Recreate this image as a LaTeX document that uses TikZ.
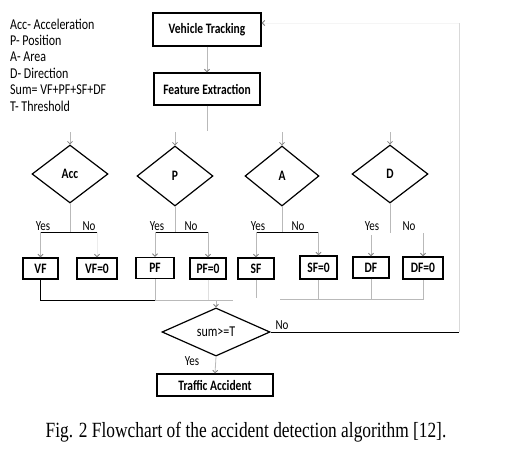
\documentclass[tikz,border=0pt]{standalone}
\usepackage{fontspec}
\setmainfont{Carlito}[FakeStretch=0.8]
\newfontfamily\capfont{Liberation Serif}[FakeStretch=0.8]
\usetikzlibrary{arrows.meta,shapes.geometric,calc}
\begin{document}
\begin{tikzpicture}[x=1pt,y=-1pt,
  box/.style={draw,line width=1.4pt,inner sep=0pt,font=\fontsize{14.4}{15}\selectfont\bfseries},
  dec/.style={draw,diamond,line width=1.2pt,inner sep=0pt,minimum width=76pt,minimum height=58pt,font=\fontsize{14.4}{15}\selectfont\bfseries},
  feed/.style={line width=0.8pt,draw=gray!55},
  tip/.style={-{Straight Barb[length=2.5pt,width=5pt,color=gray]}},
  flow/.style={feed,tip},
  branch/.style={line width=1pt,draw=black},
  lbl/.style={font=\fontsize{13.75}{14}\selectfont,inner sep=0pt,anchor=base},
]
\useasboundingbox[fill=white] (0,0) rectangle (525,458);

% legend
\node[anchor=north west,align=left,inner sep=0pt,font=\fontsize{15}{16.4}\selectfont] (legend) at (10,18.5)
  {Acc- Acceleration\\P- Position\\A- Area\\D- Direction\\Sum= VF+PF+SF+DF\\T- Threshold};

% top of the chart
\node[box,minimum width=108,minimum height=33] (vt) at (207,29.5) {Vehicle Tracking};
\node[box,minimum width=106,minimum height=32] (fe) at (207,89) {Feature Extraction};
\draw[flow] (vt) -- (fe);
\coordinate (split) at (207,131);
\draw[feed] (fe.south) -- (split);

% decisions
\node[dec] (acc) at (70,174) {Acc};
\node[dec,minimum height=60] (p) at (175,176) {P};
\node[dec,minimum height=60,minimum width=74] (a) at (282,176) {A};
\node[dec] (d) at (390,174) {D};

\coordinate (in-acc) at (70,132);
\coordinate (in-p) at (175,132);
\coordinate (in-a) at (282,132);
\coordinate (in-d) at (390,132);
\draw[flow] (in-acc) -- (acc.north);
\draw[flow] (in-p) -- (p.north);
\draw[flow] (in-a) -- (a.north);
\draw[flow] (in-d) -- (d.north);

% outcome boxes
\node[box,minimum width=35,minimum height=21] (vf)  at (40.5,268.5) {VF};
\node[box,minimum width=40,minimum height=21] (vf0) at (97,268.5) {VF=0};
\node[box,minimum width=38,minimum height=21] (pf)  at (155,268) {PF};
\node[box,minimum width=36,minimum height=21] (pf0) at (208,268.5) {PF=0};
\node[box,minimum width=36,minimum height=21] (sf)  at (256,268.5) {SF};
\node[box,minimum width=37,minimum height=23] (sf0) at (318.5,267.5) {SF=0};
\node[box,minimum width=36,minimum height=21] (df)  at (371,267.5) {DF};
\node[box,minimum width=40,minimum height=22] (df0) at (423,268) {DF=0};

% yes / no branches
\coordinate (b-acc) at (70,232);
\coordinate (b-p) at (175,232);
\coordinate (b-a) at (282,232);
\coordinate (b-d) at (390,233);
\draw[feed] (acc.south) -- (b-acc);
\draw[feed] (p.south) -- (b-p);
\draw[feed] (a.south) -- (b-a);
\draw[feed] (d.south) -- (b-d);

\draw[branch] (vf.north |- b-acc) -- (vf0.north |- b-acc);
\draw[flow] (vf.north |- b-acc) -- (vf.north);
\draw[tip,line width=0.8pt,draw=gray!15] (vf0.north |- b-acc) -- (vf0.north);

\draw[branch] (pf.north |- b-p) -- (pf0.north |- b-p);
\draw[flow] (pf.north |- b-p) -- (pf.north);
\draw[flow] (pf0.north |- b-p) -- (pf0.north);

\draw[branch] (sf.north |- b-a) -- (sf0.north |- b-a);
\draw[flow] (sf.north |- b-a) -- (sf.north);
\draw[flow] (sf0.north |- b-a) -- (sf0.north);

\draw[flow] ($(df.north)+(0,-21)$) -- (df.north);
\draw[flow] (df0.north |- b-d) -- (df0.north);

\node[lbl] at (43,230) {Yes};
\node[lbl] at (89,230) {No};
\node[lbl] at (157,230) {Yes};
\node[lbl] at (191,230) {No};
\node[lbl] at (258,230) {Yes};
\node[lbl] at (298,230) {No};
\node[lbl] at (372,230) {Yes};
\node[lbl] at (409,230) {No};

% merge into the sum test
\coordinate (mrg) at (216,300);
\draw[branch] (vf.south) |- (pf.south |- mrg);
\draw[feed] (pf.south) -- (pf.south |- mrg) -- (233,300);
\draw[feed,draw=gray!25] (pf0.south) -- (pf0.south |- mrg);
\draw[feed] (sf.south) -- ($(sf.south |- mrg)+(0,-2)$);
\draw[feed] (280,299) -- (df0.south |- 0,299) -- (df0.south);
\draw[feed] (sf0.south) -- (sf0.south |- 0,299);
\draw[feed] (df.south) -- (df.south |- 0,299);

\node[dec,minimum width=108,minimum height=37,font=\fontsize{15}{15}\selectfont] (sum) at (216,332) {sum>=T};
\draw[flow] (mrg) -- (sum.north);

\node[box,minimum width=116,minimum height=22] (ta) at (215,385) {Traffic Accident};
\draw[flow] (sum.south) -- (ta.north);
\node[lbl] at (192,365) {Yes};
\node[lbl] at (282,329) {No};

% feedback loop
\coordinate (fbb) at (459,332);
\coordinate (fbt) at (459,23);
\draw[branch] (sum.east) -- (fbb);
\draw[feed,draw=gray!30] (fbb) -- (fbt);
\draw[tip,line width=0.8pt,draw=gray!8] (fbt) -- (vt.east |- fbt);

% caption
\node[font=\capfont\fontsize{21.7}{24}\selectfont,inner sep=0pt] (cap) at (246,432)
  {Fig. 2 Flowchart of the accident detection algorithm [12].};
\end{tikzpicture}
\end{document}
